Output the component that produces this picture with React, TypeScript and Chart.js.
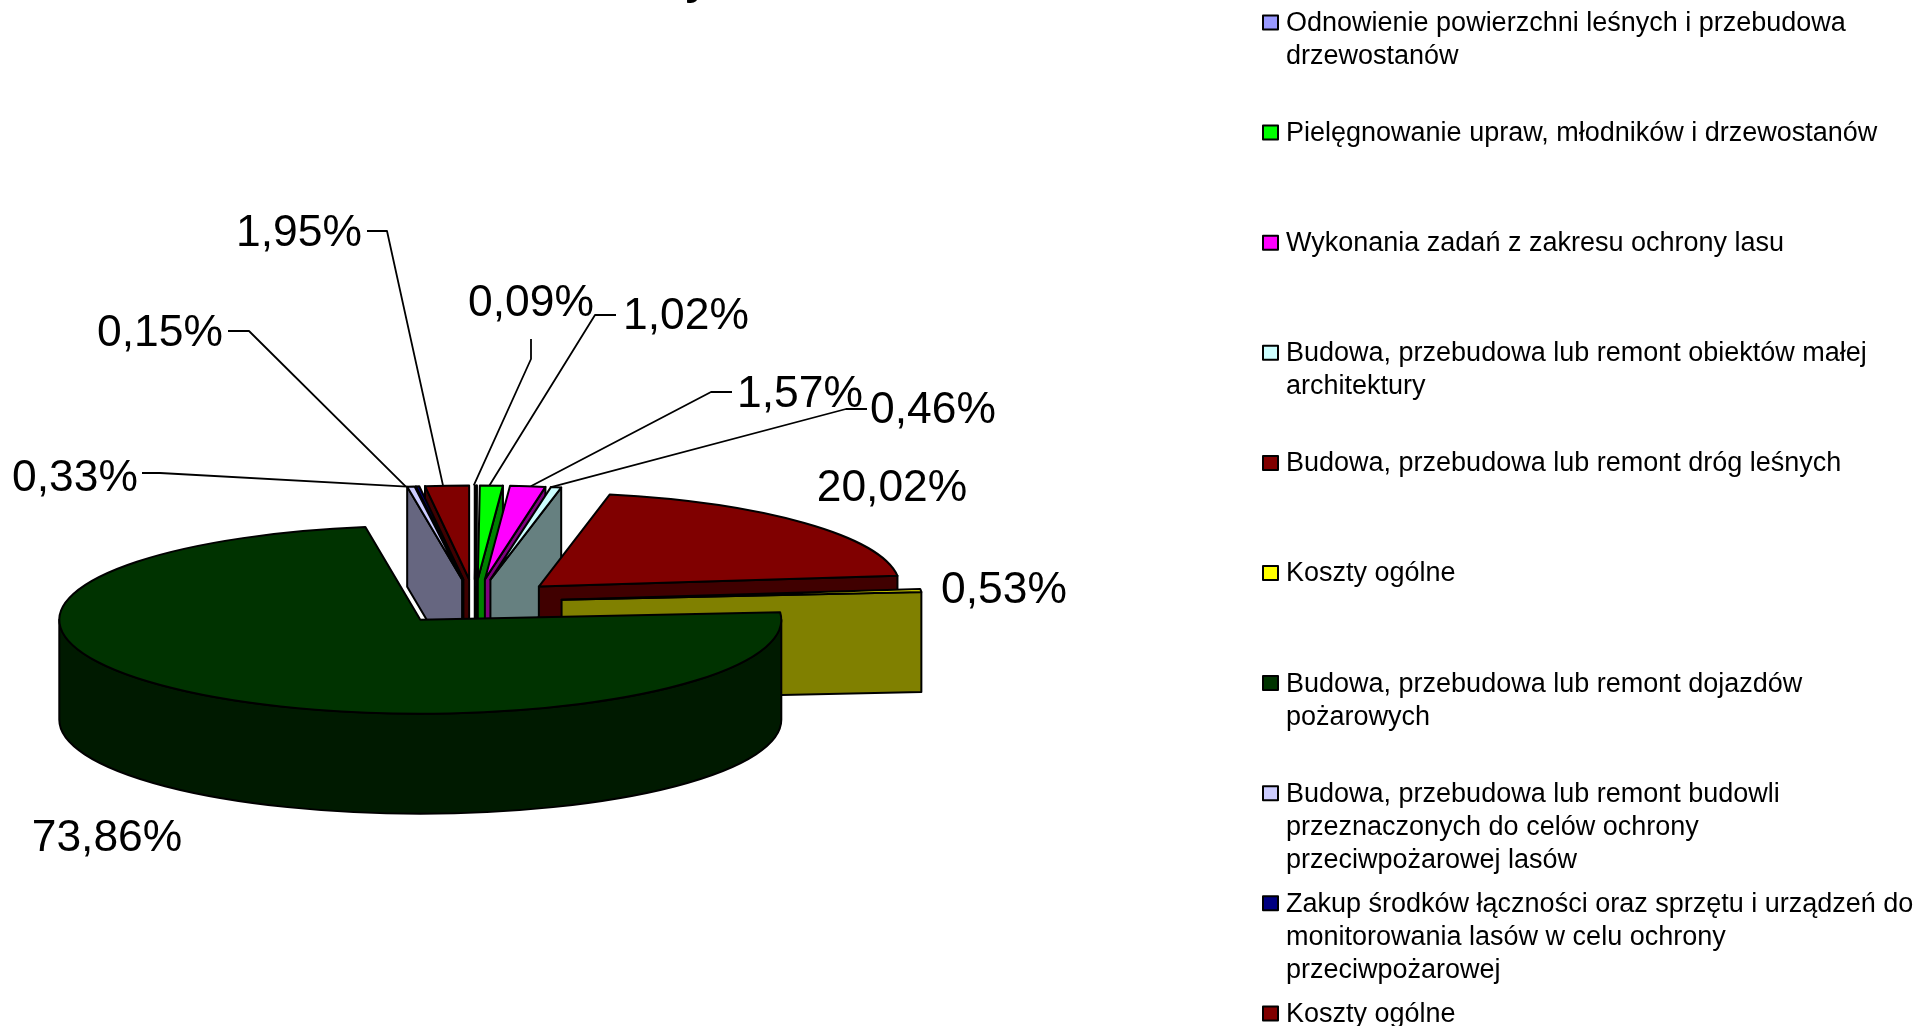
import React, { useEffect, useRef } from "react";
import { Chart, registerables } from "chart.js";

Chart.register(...registerables);

// Data (clockwise from 12 o'clock)
const sliceNames = [
  "Odnowienie powierzchni leśnych i przebudowa drzewostanów",
  "Pielęgnowanie upraw, młodników i drzewostanów",
  "Wykonania zadań z zakresu ochrony lasu",
  "Budowa, przebudowa lub remont obiektów małej architektury",
  "Budowa, przebudowa lub remont dróg leśnych",
  "Koszty ogólne",
  "Budowa, przebudowa lub remont dojazdów pożarowych",
  "Budowa, przebudowa lub remont budowli przeznaczonych do celów ochrony przeciwpożarowej lasów",
  "Zakup środków łączności oraz sprzętu i urządzeń do monitorowania lasów w celu ochrony przeciwpożarowej",
  "Koszty ogólne",
];
const sliceValues = [0.09, 1.02, 1.57, 0.46, 20.02, 0.53, 73.86, 0.33, 0.15, 1.95];
const valueLabels = ["0,09%", "1,02%", "1,57%", "0,46%", "20,02%", "0,53%", "73,86%", "0,33%", "0,15%", "1,95%"];
const topColors = ["#9999FF", "#00FF00", "#FF00FF", "#CCFFFF", "#800000", "#FFFF00", "#003300", "#CCCCFF", "#000080", "#800000"];
const wallColors = ["#4D4D80", "#008000", "#800080", "#668080", "#400000", "#808000", "#001A00", "#666680", "#000040", "#400000"];
const legendLines = [
  ["Odnowienie powierzchni leśnych i przebudowa", "drzewostanów"],
  ["Pielęgnowanie upraw, młodników i drzewostanów"],
  ["Wykonania zadań z zakresu ochrony lasu"],
  ["Budowa, przebudowa lub remont obiektów małej", "architektury"],
  ["Budowa, przebudowa lub remont dróg leśnych"],
  ["Koszty ogólne"],
  ["Budowa, przebudowa lub remont dojazdów", "pożarowych"],
  ["Budowa, przebudowa lub remont budowli", "przeznaczonych do celów ochrony", "przeciwpożarowej lasów"],
  ["Zakup środków łączności oraz sprzętu i urządzeń do", "monitorowania lasów w celu ochrony", "przeciwpożarowej"],
  ["Koszty ogólne"],
];

// Layout of the drawing (not data)
const FONT = '"Liberation Sans", Arial, sans-serif';
const TILT = 0.26;
const EXPLODE = 87.5;
const DEPTH = 100;
const LABEL_FONT = 44.4;
const LEGEND_FONT = 27;
// label centre x,y; leader start & elbow; horizontal nudge of the leader's end on the slice
const labelLayout: { x: number; y: number; lead?: number[][]; endDx?: number }[] = [
  { x: 531, y: 304, lead: [[531, 339], [531, 359]], endDx: -2 },
  { x: 686, y: 317, lead: [[616, 315], [595, 315]], endDx: -2 },
  { x: 800, y: 395, lead: [[732, 392], [711, 392]], endDx: 3 },
  { x: 933, y: 411, lead: [[867, 409], [846, 409]], endDx: -6 },
  { x: 892, y: 489 },
  { x: 1004, y: 591 },
  { x: 107, y: 839 },
  { x: 75, y: 479, lead: [[142, 473], [160, 473]], endDx: -4 },
  { x: 160, y: 334, lead: [[228, 331], [249, 331]], endDx: -12 },
  { x: 299, y: 234, lead: [[367, 231], [387, 231]], endDx: -4 },
];

function wallPath(ctx: CanvasRenderingContext2D, pts: number[][]) {
  ctx.beginPath();
  pts.forEach((p, i) => (i ? ctx.lineTo(p[0], p[1]) : ctx.moveTo(p[0], p[1])));
  ctx.closePath();
}

const pie3d = {
  id: "pie3d",
  beforeDatasetDraw() {
    return false;
  },
  afterDatasetsDraw(chart: any) {
    const ctx: CanvasRenderingContext2D = chart.ctx;
    const arcs: any[] = chart.getDatasetMeta(0).data;
    const geo = arcs.map((el, i) => {
      const mid = (el.startAngle + el.endAngle) / 2;
      return {
        el,
        i,
        mid,
        ax: el.x + Math.cos(mid) * EXPLODE,
        ay: el.y + Math.sin(mid) * EXPLODE * TILT,
        r: el.outerRadius,
      };
    });
    const order = [...geo].sort((a, b) => a.ay - b.ay);
    ctx.save();
    ctx.lineJoin = "round";
    ctx.strokeStyle = "#000";
    ctx.lineWidth = 2;
    for (const g of order) {
      const { el, i, ax, ay, r } = g;
      const px = (t: number) => ax + Math.cos(t) * r;
      const py = (t: number) => ay + Math.sin(t) * r * TILT;
      ctx.fillStyle = wallColors[i];
      const face = (t: number) => {
        wallPath(ctx, [
          [ax, ay],
          [px(t), py(t)],
          [px(t), py(t) + DEPTH],
          [ax, ay + DEPTH],
        ]);
        ctx.fill();
        ctx.stroke();
      };
      if (Math.cos(el.startAngle) < 0) face(el.startAngle);
      if (Math.cos(el.endAngle) > 0) face(el.endAngle);
      // outer curved wall: only the half that faces the viewer
      const a0 = Math.max(el.startAngle, 0);
      const a1 = Math.min(el.endAngle, Math.PI);
      if (a1 > a0) {
        ctx.beginPath();
        ctx.ellipse(ax, ay, r, r * TILT, 0, a0, a1);
        ctx.ellipse(ax, ay + DEPTH, r, r * TILT, 0, a1, a0, true);
        ctx.closePath();
        ctx.fill();
        ctx.stroke();
      }
      // top face: the library's arc element, tilted and moved
      ctx.save();
      ctx.translate(ax, ay);
      ctx.scale(1, TILT);
      ctx.translate(-el.x, -el.y);
      el.draw(ctx);
      ctx.restore();
      ctx.beginPath();
      ctx.moveTo(ax, ay);
      ctx.ellipse(ax, ay, r, r * TILT, 0, el.startAngle, el.endAngle);
      ctx.closePath();
      ctx.stroke();
    }
    // value labels and leader lines
    ctx.fillStyle = "#000";
    ctx.font = `${LABEL_FONT}px ${FONT}`;
    ctx.textAlign = "center";
    ctx.textBaseline = "middle";
    ctx.lineWidth = 1.8;
    geo.forEach((g) => {
      const l = labelLayout[g.i];
      ctx.fillText(valueLabels[g.i], l.x, l.y);
      if (l.lead) {
        const end = [
          g.ax + Math.cos(g.mid) * g.r + (l.endDx || 0),
          g.ay + Math.sin(g.mid) * g.r * TILT,
        ];
        ctx.beginPath();
        ctx.moveTo(l.lead[0][0], l.lead[0][1]);
        ctx.lineTo(l.lead[1][0], l.lead[1][1]);
        ctx.lineTo(end[0], end[1]);
        ctx.stroke();
      }
    });
    // legend
    ctx.font = `${LEGEND_FONT}px ${FONT}`;
    ctx.textAlign = "left";
    ctx.lineWidth = 2;
    legendLines.forEach((lines, i) => {
      const y0 = 23.5 + i * 110.1;
      ctx.fillStyle = topColors[i];
      ctx.fillRect(1263, y0 - 8, 15, 14);
      ctx.strokeRect(1263, y0 - 8, 15, 14);
      ctx.fillStyle = "#000";
      lines.forEach((t, k) => ctx.fillText(t, 1286, y0 + k * 33.2));
    });
    // clipped chart title: only a descender shows at the page's top edge
    ctx.font = `bold 44px ${FONT}`;
    ctx.textAlign = "center";
    ctx.textBaseline = "alphabetic";
    ctx.fillText("y", 697, -6);
    ctx.restore();
  },
};

export default function App() {
  const ref = useRef<HTMLCanvasElement>(null);
  useEffect(() => {
    const chart = new Chart(ref.current!, {
      type: "pie",
      data: {
        labels: sliceNames,
        datasets: [
          {
            data: sliceValues,
            backgroundColor: topColors,
            borderWidth: 0,
            radius: 361,
          },
        ],
      },
      options: {
        responsive: false,
        animation: false,
        layout: { padding: { left: 1, right: 972, top: 178, bottom: 0 } },
        plugins: { legend: { display: false }, tooltip: { enabled: false } },
      },
      plugins: [pie3d],
    } as any);
    return () => chart.destroy();
  }, []);
  return (
    <div style={{ position: "fixed", left: 0, top: 0, width: 1920, height: 1026, background: "#fff" }}>
      <canvas ref={ref} width={1920} height={1026} style={{ display: "block" }} />
    </div>
  );
}
